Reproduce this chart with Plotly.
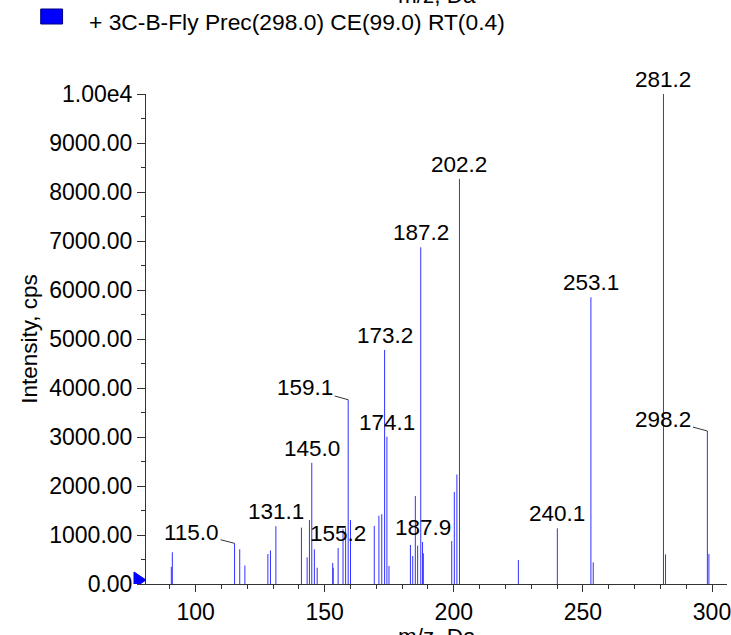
import plotly.graph_objects as go

# ---- data ----
mz = [90.6, 91.0, 115.1, 117.1, 119.1, 128.0, 129.0, 131.1, 141.0, 143.2,
      144.1, 145.0, 146.0, 147.1, 153.1, 153.3, 155.2, 157.1, 158.1, 159.1,
      160.0, 169.2, 171.0, 172.1, 173.2, 174.1, 174.9, 183.2, 184.1, 185.1,
      186.0, 187.2, 187.9, 188.2, 199.2, 200.2, 201.2, 202.2, 225.0, 240.1,
      253.1, 254.0, 281.2, 282.0, 298.2, 298.8]
intensity = [350, 647, 830, 708, 378, 612, 684, 1180, 1150, 544,
             1306, 2472, 708, 333, 430, 330, 735, 1120, 1140, 3760,
             1306, 1187, 1394, 1425, 4778, 3006, 367, 796, 571, 1796,
             782, 6871, 857, 626, 878, 1878, 2235, 8268, 490, 1136,
             5851, 442, 10000, 606, 3122, 612]

label_mz = [115.1, 131.1, 145.0, 155.2, 159.1, 173.2, 174.1, 187.2, 187.9,
            202.2, 240.1, 253.1, 281.2, 298.2]
label_text = ["115.0", "131.1", "145.0", "155.2", "159.1", "173.2", "174.1",
              "187.2", "187.9", "202.2", "240.1", "253.1", "281.2", "298.2"]

y_tickvals = [0, 1000, 2000, 3000, 4000, 5000, 6000, 7000, 8000, 9000, 10000]
y_ticktext = ["0.00", "1000.00", "2000.00", "3000.00", "4000.00", "5000.00",
              "6000.00", "7000.00", "8000.00", "9000.00", "1.00e4"]
x_tickvals = [100, 150, 200, 250, 300]

series_name = "+ 3C-B-Fly Prec(298.0) CE(99.0) RT(0.4)"
x_title = "m/z, Da"
y_title = "Intensity, cps"

# ---- figure ----
FONT = "Liberation Sans, Arial, sans-serif"
FS = 22.5
TFS = 23
W, H = 731, 635
ML, MR, MT, MB = 146, 0, 94, 51
PW = W - ML - MR
PH = H - MT - MB

def px_x(p):
    return (p - ML) / PW

def px_y(p):
    return (H - MB - p) / PH

xs, ys = [], []
for m, v in zip(mz, intensity):
    xs += [m, m, None]
    ys += [0, v, None]

fig = go.Figure()
fig.add_trace(go.Scatter(x=xs, y=ys, mode="lines",
                         line=dict(color="rgb(50,50,255)", width=1),
                         hoverinfo="skip", showlegend=False))

leader = {"115.0": (-43, -11), "159.1": (-43, -12), "298.2": (-44, -12)}
annotations = []
for lm, lt in zip(label_mz, label_text):
    idx = min(range(len(mz)), key=lambda i: abs(mz[i] - lm))
    xm, yv = mz[idx], intensity[idx]
    if lt in leader:
        ax, ay = leader[lt]
        annotations.append(dict(x=xm, y=yv, xref="x", yref="y", text=lt,
                                showarrow=True, arrowhead=0, arrowwidth=0.8,
                                arrowcolor="black", ax=ax, ay=ay,
                                font=dict(family=FONT, size=FS, color="black")))
    else:
        annotations.append(dict(x=xm, y=yv, xref="x", yref="y", text=lt,
                                showarrow=False, xanchor="center", yanchor="bottom",
                                font=dict(family=FONT, size=FS, color="black")))

# axis titles and header
annotations.append(dict(x=0.5, y=px_y(622), xref="paper", yref="paper", text=x_title,
                        showarrow=False, xanchor="center", yanchor="top",
                        font=dict(family=FONT, size=FS, color="black")))
annotations.append(dict(x=0.5, y=px_y(10), xref="paper", yref="paper", text=x_title,
                        showarrow=False, xanchor="center", yanchor="bottom",
                        font=dict(family=FONT, size=FS, color="black")))
annotations.append(dict(x=px_x(28), y=0.5, xref="paper", yref="paper", text=y_title,
                        showarrow=False, textangle=-90, xanchor="center", yanchor="middle",
                        font=dict(family=FONT, size=FS, color="black")))
annotations.append(dict(x=px_x(87), y=px_y(22), xref="paper", yref="paper", text=series_name,
                        showarrow=False, xanchor="left", yanchor="middle",
                        font=dict(family=FONT, size=22.8, color="black")))

shapes = [
    dict(type="rect", xref="paper", yref="paper",
         x0=px_x(40), x1=px_x(62), y0=px_y(24), y1=px_y(9),
         fillcolor="#0000ff", line=dict(color="#00007f", width=1)),
    dict(type="path", xref="paper", yref="y", xsizemode="pixel", ysizemode="pixel",
         xanchor=0, yanchor=0, path="M-12,-4 L0,4 L-12,12 Z",
         fillcolor="#0000ff", line=dict(color="#0000ff", width=1)),
]

fig.update_layout(
    width=W, height=H,
    margin=dict(l=ML, r=MR, t=MT, b=MB, pad=0),
    paper_bgcolor="white", plot_bgcolor="white",
    font=dict(family=FONT, size=FS, color="black"),
    showlegend=False,
    annotations=annotations,
    shapes=shapes,
    xaxis=dict(range=[80.8, 305.8], tickvals=x_tickvals, ticks="outside", ticklen=7,
               tickcolor="#333", showline=True, linecolor="#333", linewidth=1,
               showgrid=False, zeroline=False, ticklabeloverflow="allow",
               tickfont=dict(family=FONT, size=TFS, color="black"),
               minor=dict(dtick=10, tick0=0, ticks="outside", ticklen=4, tickcolor="#333",
                          showgrid=False)),
    yaxis=dict(range=[0, 10000], tickvals=y_tickvals, ticktext=y_ticktext,
               ticks="outside", ticklen=8, tickcolor="#333",
               showline=True, linecolor="#333", linewidth=1,
               showgrid=False, zeroline=False,
               tickfont=dict(family=FONT, size=TFS, color="black"),
               minor=dict(dtick=500, tick0=0, ticks="outside", ticklen=4, tickcolor="#333",
                          showgrid=False)),
)

fig.write_html("out.html", config={"displayModeBar": False},
               post_script="document.body.style.margin='0';document.body.style.overflow='hidden';")
